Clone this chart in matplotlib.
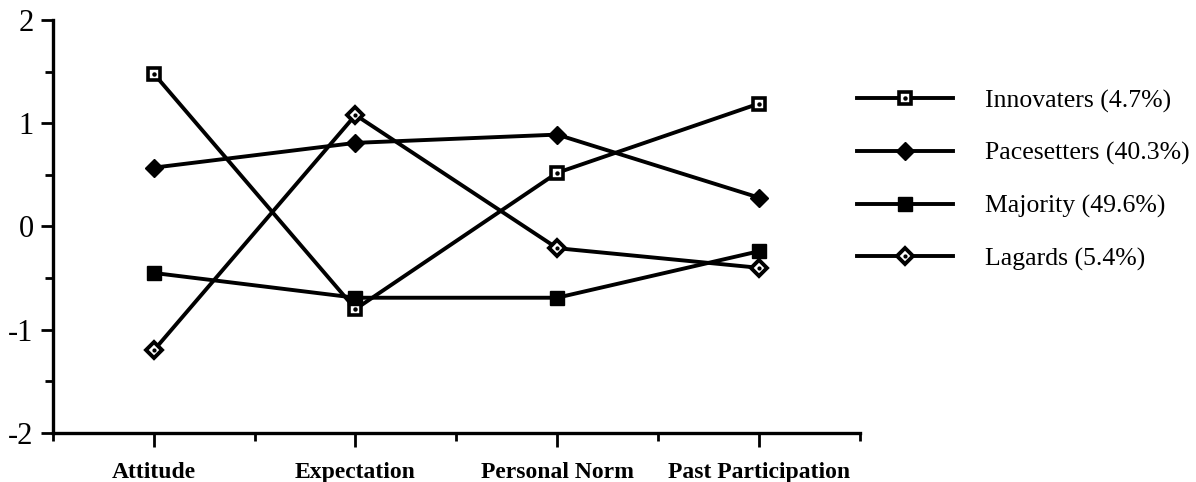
import matplotlib
matplotlib.use("Agg")
import matplotlib.pyplot as plt
import numpy as np

plt.rcParams['font.family'] = ['Liberation Serif', 'DejaVu Serif']

categories = ["Attitude", "Expectation", "Personal Norm", "Past Participation"]
innovaters = [1.48, -0.80, 0.52, 1.19]
pacesetters = [0.57, 0.81, 0.89, 0.28]
majority = [-0.45, -0.69, -0.69, -0.24]
lagards = [-1.20, 1.08, -0.21, -0.40]
labels = ["Innovaters (4.7%)", "Pacesetters (40.3%)", "Majority (49.6%)", "Lagards (5.4%)"]

fig = plt.figure(figsize=(11.96, 4.82), dpi=100)
ax = fig.add_axes([0.0443, 0.1017, 0.6745, 0.8568])

x = np.arange(len(categories))
lw = 2.8

# open square with a dot inside
l1, = ax.plot(x, innovaters, color='black', lw=lw, marker='s', ms=9,
              mfc='white', mec='black', mew=2.6, zorder=3)
d1, = ax.plot(x, innovaters, ls='none', marker='o', ms=2.2, color='black', zorder=4)
l2, = ax.plot(x, pacesetters, color='black', lw=lw, marker='D', ms=9,
              mfc='black', mec='black', zorder=3)
l3, = ax.plot(x, majority, color='black', lw=lw, marker='s', ms=10,
              mfc='black', mec='black', zorder=3)
l4, = ax.plot(x, lagards, color='black', lw=lw, marker='D', ms=8,
              mfc='white', mec='black', mew=2.8, zorder=3)
d4, = ax.plot(x, lagards, ls='none', marker='o', ms=2, color='black', zorder=4)

ax.set_xlim(-0.5, 3.5)
ax.set_ylim(-2, 2)
ax.set_xticks(x)
ax.set_xticklabels(categories, fontsize=17, fontweight='bold')
ax.set_xticks(np.arange(-0.5, 3.6, 0.5), minor=True)
ax.set_yticks([-2, -1, 0, 1, 2])
ax.set_yticklabels(["-2", "-1", "0", "1", "2"], fontsize=22)
ax.set_yticks(np.arange(-1.5, 2, 0.5), minor=True)

ax.spines['top'].set_visible(False)
ax.spines['right'].set_visible(False)
ax.spines['left'].set_linewidth(2.4)
ax.spines['bottom'].set_linewidth(2.4)
ax.tick_params(axis='x', which='major', direction='out', length=10, width=2, pad=11)
ax.tick_params(axis='x', which='minor', direction='out', length=6, width=2)
ax.tick_params(axis='y', which='major', direction='out', length=9, width=2, pad=5)
ax.tick_params(axis='y', which='minor', direction='out', length=6, width=2)

ax.legend([(l1, d1), l2, l3, (l4, d4)], labels, loc='upper left',
          bbox_to_anchor=(0.697, 0.863), bbox_transform=fig.transFigure,
          frameon=False, fontsize=18.5, handlelength=3.73, handletextpad=1.25,
          labelspacing=1.14)

fig.savefig("out.png", dpi=100)
